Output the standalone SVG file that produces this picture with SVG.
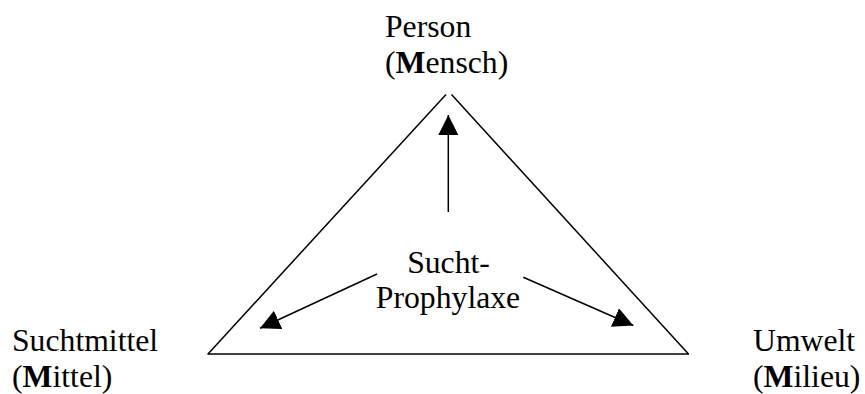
<svg xmlns="http://www.w3.org/2000/svg" width="865" height="394" viewBox="0 0 865 394">
<style>
  text { font-family: "Liberation Serif", "Times New Roman", serif; font-size: 31.7px; fill: #000; }
  .b { font-weight: bold; }
  .edge { stroke: #000; stroke-width: 1.5; fill: none; }
  .mid { text-anchor: middle; }
</style>
<defs>
  <marker id="arrow" markerUnits="userSpaceOnUse" markerWidth="22" markerHeight="22" refX="20" refY="10" orient="auto" viewBox="0 0 22 22">
    <path d="M0,0 L20,10 L0,20 z" fill="#000"/>
  </marker>
</defs>
<rect width="865" height="394" fill="#fff"/>
<g id="triangle">
  <line class="edge" x1="208" y1="354" x2="446" y2="94.5"/>
  <line class="edge" x1="451.5" y1="94.5" x2="688.5" y2="354"/>
  <line class="edge" x1="207.5" y1="354" x2="689" y2="354"/>
</g>
<g id="connectors">
  <line class="edge" x1="448.3" y1="212" x2="448.3" y2="115" marker-end="url(#arrow)"/>
  <line class="edge" x1="377" y1="274" x2="260" y2="328.3" marker-end="url(#arrow)"/>
  <line class="edge" x1="523.3" y1="277.3" x2="633.3" y2="325.5" marker-end="url(#arrow)"/>
</g>
<g id="node-person">
  <text x="385" y="37">Person</text>
  <text x="385" y="73">(<tspan class="b">M</tspan>ensch)</text>
</g>
<g id="node-center">
  <text class="mid" x="448.5" y="273">Sucht-</text>
  <text class="mid" x="448" y="308">Prophylaxe</text>
</g>
<g id="node-suchtmittel">
  <text x="12" y="351">Suchtmittel</text>
  <text x="12" y="387">(<tspan class="b">M</tspan>ittel)</text>
</g>
<g id="node-umwelt">
  <text x="753" y="351">Umwelt</text>
  <text x="753" y="387">(<tspan class="b">M</tspan>ilieu)</text>
</g>
</svg>
